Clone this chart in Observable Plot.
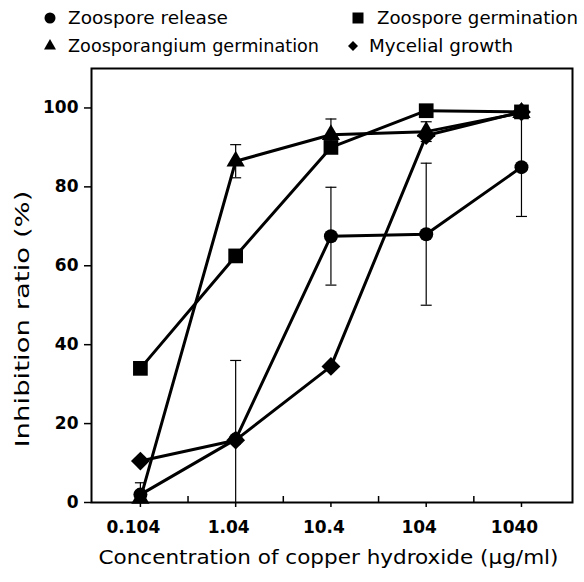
<!DOCTYPE html>
<html><head><meta charset="utf-8">
<script src="https://cdn.jsdelivr.net/npm/d3@7"></script>
<script src="https://cdn.jsdelivr.net/npm/@observablehq/plot@0.6"></script>
<style>
body{margin:0;background:#fff;}
#legend,#chart{display:block;width:584px;}
</style></head><body>
<div id="legend"></div>
<div id="chart"></div>
<script>
const concentrations = [0.104, 1.04, 10.4, 104, 1040];
const concentrationLabels = ["0.104", "1.04", "10.4", "104", "1040"];
const seriesNames = ["Zoospore release", "Zoospore germination", "Zoosporangium germination", "Mycelial growth"];
const zoosporeRelease = [2, 16, 67.5, 68, 85];
const zoosporeReleaseErr = [3, 20, 12.4, 18, 12.5];
const zoosporeGermination = [34, 62.5, 90, 99.3, 99];
const zoosporangiumGermination = [1, 86.5, 93.2, 94, 98.8];
const zoosporangiumGerminationErr = [null, 4.2, 4, 2.5, null];
const mycelialGrowth = [10.5, 15.8, 34.5, 93, 99];
const yTicks = [0, 20, 40, 60, 80, 100];
const xTitle = "Concentration of copper hydroxide (µg/ml)";
const yTitle = "Inhibition ratio (%)";

const seriesValues = [zoosporeRelease, zoosporeGermination, zoosporangiumGermination, mycelialGrowth];
const symbols = ["circle", "square", "triangle", "diamond2"];
const symbolR = {"circle": 7, "square": 8.3, "triangle": 6.8, "diamond2": 8.5};

const rows = seriesValues.flatMap((vals, i) => vals.map((v, j) => ({
  series: seriesNames[i], symbol: symbols[i], x: concentrations[j], y: v
})));
const errRows = [];
[[zoosporeRelease, zoosporeReleaseErr], [zoosporangiumGermination, zoosporangiumGerminationErr]].forEach(([vals, errs]) => {
  vals.forEach((v, j) => {
    if (errs[j] != null) errRows.push({x: concentrations[j], lo: v - errs[j], hi: v + errs[j]});
  });
});
const capEnds = errRows.flatMap(d => [{x: d.x, y: d.lo}, {x: d.x, y: d.hi}]);
const minorTicks = d3.pairs(concentrations).map(([a, b]) => Math.sqrt(a * b));

const capSymbol = {draw(ctx) { ctx.moveTo(-5.5, 0); ctx.lineTo(5.5, 0); }};

const chart = Plot.plot({
  width: 584,
  height: 522,
  marginTop: 8,
  marginBottom: 80,
  marginLeft: 91,
  marginRight: 12,
  style: {fontFamily: "DejaVu Sans, sans-serif", fontSize: "17px", color: "black", background: "white"},
  x: {type: "log", domain: [0.0319, 3570]},
  y: {domain: [0, 110]},
  marks: [
    Plot.axisY({ticks: yTicks, tickSize: 7, tickPadding: 6, label: null, fontWeight: "bold", fontSize: 17, strokeWidth: 1.5}),
    Plot.axisX({ticks: concentrations, tickSize: 5, text: null, label: null, strokeWidth: 1.5}),
    Plot.axisX({ticks: minorTicks, tickSize: -6, text: null, label: null, strokeWidth: 1.5}),
    Plot.axisX({ticks: concentrations, tickSize: 0, tickPadding: 18, dx: -7, label: null, fontWeight: "bold", fontSize: 17,
      tickFormat: d => concentrationLabels[concentrations.indexOf(d)]}),
    Plot.ruleX(errRows, {x: "x", y1: "lo", y2: "hi", stroke: "black", strokeWidth: 1.2, clip: true}),
    Plot.dot(capEnds, {x: "x", y: "y", symbol: capSymbol, stroke: "black", strokeWidth: 1.2, fill: "none", clip: true}),
    Plot.line(rows, {x: "x", y: "y", z: "series", stroke: "black", strokeWidth: 3}),
    Plot.dot(rows, {x: "x", y: "y", symbol: "symbol", fill: "black", stroke: "none", r: d => symbolR[d.symbol]}),
    Plot.frame({stroke: "black", strokeWidth: 2}),
    Plot.text([xTitle], {frameAnchor: "bottom", textAnchor: "start", dy: 61, dx: -233.5, fontSize: 19, fill: "black"}),
    Plot.text([yTitle], {frameAnchor: "left", textAnchor: "start", rotate: -90, dx: -69, dy: 162, fontSize: 19, fill: "black"})
  ],
  symbol: {type: "identity"},
  r: {type: "identity"}
});

d3.select(chart).selectAll("text").each(function () {
  if (this.textContent === xTitle) d3.select(this).attr("textLength", 460).attr("lengthAdjust", "spacingAndGlyphs");
  if (this.textContent === yTitle) d3.select(this).attr("textLength", 257).attr("lengthAdjust", "spacingAndGlyphs");
});
document.getElementById("chart").append(chart);

// Legend
const legendPos = [{x: 50, y: 18, tx: 18, w: 160}, {x: 358, y: 18, tx: 19, w: 201}, {x: 50, y: 46, tx: 18, w: 251}, {x: 353, y: 46, tx: 16, w: 144}];
const legendSize = {"circle": 95, "square": 121, "triangle": 62, "diamond2": 64};
const d3sym = {"circle": d3.symbolCircle, "square": d3.symbolSquare, "triangle": d3.symbolTriangle, "diamond2": d3.symbolDiamond2};
const leg = d3.select("#legend").append("svg").attr("width", 584).attr("height", 60)
  .style("display", "block").style("font-family", "DejaVu Sans, sans-serif");
seriesNames.forEach((name, i) => {
  const p = legendPos[i];
  leg.append("path").attr("d", d3.symbol(d3sym[symbols[i]], legendSize[symbols[i]])())
    .attr("transform", `translate(${p.x},${p.y})`).attr("fill", "black");
  leg.append("text").attr("x", p.x + p.tx).attr("y", p.y).attr("dy", "0.36em")
    .attr("font-size", 18).attr("fill", "black")
    .attr("textLength", p.w).attr("lengthAdjust", "spacingAndGlyphs").text(name);
});
</script>
</body></html>
